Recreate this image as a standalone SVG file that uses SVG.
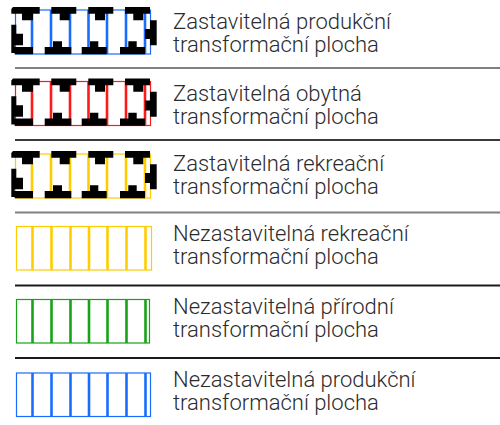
<svg xmlns="http://www.w3.org/2000/svg" xmlns:xlink="http://www.w3.org/1999/xlink" width="500" height="425" viewBox="0 0 500 425">
<style>
.lbl{font-family:Roboto,"Liberation Sans",sans-serif;font-weight:300;font-size:22px;fill:#2b2b2b}
.sep-g{stroke:#808080;stroke-width:2}
.sep-d{stroke:#1a1a1a;stroke-width:2}
.box{fill:#fff;stroke-width:1.2}
.bar{stroke-width:2.6}
.blue{stroke:#1a6cff}
.red{stroke:#ff1a1a}
.yel{stroke:#ffcc00}
.grn{stroke:#17a317}
</style>
<defs>
<g id="hatch" fill="#000">
  <path d="M11.3 9 L13 7 H39.7 V13.7 H33 V20.3 H22 V13.7 H11.3 Z"/>
  <path d="M51.3 7 H76.3 V13.7 H69.7 V20.3 H59.7 V13.7 H51.3 Z"/>
  <path d="M88.3 7 H113.3 V13.7 H105 V20.3 H95 V13.7 H88.3 Z"/>
  <path d="M125 7 H150 V13.7 H143.3 V20.3 H133.3 V13.7 H125 Z"/>
  <path d="M11.3 24.7 H16.3 V33.7 H23 V45.3 H14.7 V47 H33 V54.3 H14.7 V53 H11.3 Z"/>
  <path d="M44.7 47 H53 V41.3 H62 V47 H71.3 V54.3 H44.7 Z"/>
  <path d="M81.7 47 H90 V41.3 H98.3 V47 H106.7 V54.3 H81.7 Z"/>
  <path d="M120 47 H128.3 V41.3 H136.7 V47 H145 V54.3 H120 Z"/>
  <path d="M150 20.3 H156.7 V45.3 H150 V39 H145 V29 H150 Z"/>
</g>
<g id="vl">
  <line x1="32" y1="0" x2="32" y2="44"/>
  <line x1="51" y1="0" x2="51" y2="44"/>
  <line x1="70" y1="0" x2="70" y2="44"/>
  <line x1="88.5" y1="0" x2="88.5" y2="44"/>
  <line x1="107" y1="0" x2="107" y2="44"/>
  <line x1="126" y1="0" x2="126" y2="44"/>
  <line x1="145" y1="0" x2="145" y2="44"/>
</g>
</defs>

<g id="separators">
  <line class="sep-g" x1="15" y1="68" x2="500" y2="68"/>
  <line class="sep-d" x1="15" y1="140" x2="500" y2="140" style="stroke:#3a3a3a"/>
  <line class="sep-g" x1="15" y1="212.5" x2="500" y2="212.5"/>
  <line class="sep-d" x1="15" y1="285.5" x2="500" y2="285.5"/>
  <line class="sep-d" x1="15" y1="358" x2="500" y2="358"/>
</g>

<g id="item-zast-produkcni">
  <rect class="box blue" x="15.5" y="10" width="135" height="44"/>
  <use xlink:href="#vl" href="#vl" class="bar blue" transform="translate(0,10)"/>
  <use xlink:href="#hatch" href="#hatch"/>
  <text class="lbl" x="173" y="29">Zastavitelná produkční</text>
  <text class="lbl" x="173" y="52">transformační plocha</text>
</g>

<g id="item-zast-obytna">
  <rect class="box red" x="15.5" y="81.5" width="135" height="44"/>
  <use xlink:href="#vl" href="#vl" class="bar red" transform="translate(0,81.5)"/>
  <use xlink:href="#hatch" href="#hatch" transform="translate(0,71.5)"/>
  <text class="lbl" x="173" y="100.5">Zastavitelná obytná</text>
  <text class="lbl" x="173" y="123.5">transformační plocha</text>
</g>

<g id="item-zast-rekreacni">
  <rect class="box yel" x="15.5" y="154" width="135" height="44"/>
  <use xlink:href="#vl" href="#vl" class="bar yel" transform="translate(0,154)"/>
  <use xlink:href="#hatch" href="#hatch" transform="translate(0,144)"/>
  <text class="lbl" x="173" y="171">Zastavitelná rekreační</text>
  <text class="lbl" x="173" y="194">transformační plocha</text>
</g>

<g id="item-nezast-rekreacni">
  <rect class="box yel" x="16.5" y="226.5" width="135" height="43.5"/>
  <use xlink:href="#vl" href="#vl" class="bar yel" transform="translate(0.5,226.5) scale(1,0.99)"/>
  <text class="lbl" x="173" y="241">Nezastavitelná rekreační</text>
  <text class="lbl" x="173" y="264">transformační plocha</text>
</g>

<g id="item-nezast-prirodni">
  <rect class="box grn" x="16.5" y="299.5" width="133" height="43.5"/>
  <use xlink:href="#vl" href="#vl" class="bar grn" transform="translate(0.5,299.5) scale(1,0.99)"/>
  <text class="lbl" x="173" y="314">Nezastavitelná přírodní</text>
  <text class="lbl" x="173" y="337">transformační plocha</text>
</g>

<g id="item-nezast-produkcni">
  <rect class="box blue" x="16.5" y="373" width="134" height="43.5"/>
  <use xlink:href="#vl" href="#vl" class="bar blue" transform="translate(0.5,373) scale(1,0.99)"/>
  <text class="lbl" x="173" y="386.5">Nezastavitelná produkční</text>
  <text class="lbl" x="173" y="409.5">transformační plocha</text>
</g>
</svg>
